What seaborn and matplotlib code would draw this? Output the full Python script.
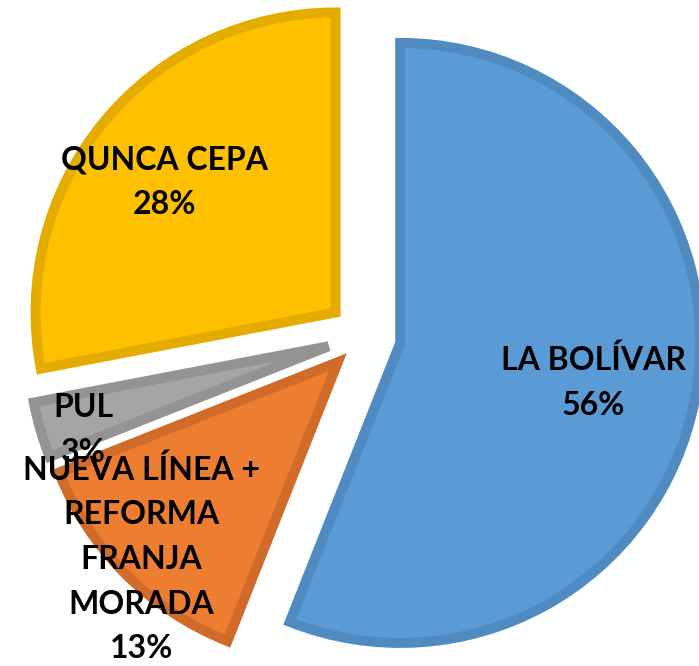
"""Exploded pie of vote shares, Excel-style look."""
import numpy as np
import matplotlib
matplotlib.use("Agg")
import matplotlib.pyplot as plt
import seaborn as sns

sns.set_theme(style="white")
plt.rcParams["font.family"] = ["Lato", "DejaVu Sans"]

# --- data ------------------------------------------------------------------
labels = ["LA BOLÍVAR", "NUEVA LÍNEA +\nREFORMA\nFRANJA\nMORADA", "PUL", "QUNCA CEPA"]
shares = [56, 13, 3, 28]

# --- style -----------------------------------------------------------------
fills = ["#5B9BD5", "#ED7D31", "#A5A5A5", "#FFC000"]
edges = ["#4F8AC1", "#D16B2A", "#939393", "#E4AC00"]
label_dist = [0.78, 1.05, 0.985, 0.84]   # radial position of each label
label_shift = [-0.01, 0.0, 0.04, 0.035]  # small angular nudge (radians)

fig = plt.figure(figsize=(6.99, 6.66), dpi=100)
ax = fig.add_axes([0, 0, 1, 1])

wedges, _ = ax.pie(shares, startangle=90, counterclock=False,
                   colors=fills, explode=[0.123] * len(shares),
                   wedgeprops=dict(linewidth=7.2))
for w, ec in zip(wedges, edges):
    w.set_edgecolor(ec)

for w, name, pct, d, s in zip(wedges, labels, shares, label_dist, label_shift):
    mid = np.deg2rad((w.theta1 + w.theta2) / 2) + s
    ax.text(d * np.cos(mid), d * np.sin(mid), f"{name}\n{pct}%",
            ha="center", va="center", fontsize=23, fontweight="bold",
            color="black", linespacing=1.65)

ax.set_xlim(-364 / 300, 335 / 300)
ax.set_ylim(-330 / 300, 336 / 300)
ax.set_aspect("auto")
ax.axis("off")

fig.savefig("out.png", dpi=100)
